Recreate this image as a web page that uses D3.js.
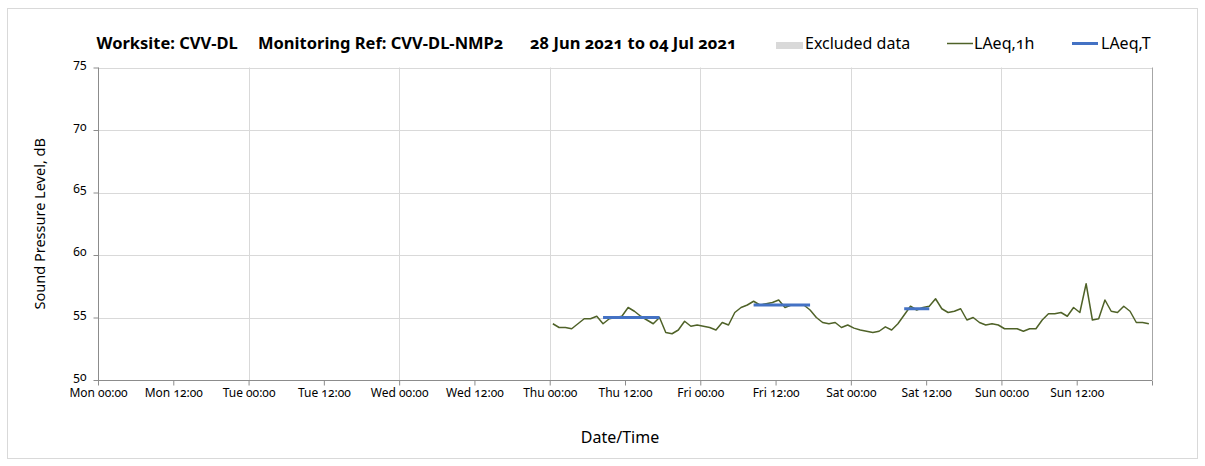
<!DOCTYPE html>
<html>
<head>
<meta charset="utf-8">
<script src="https://cdn.jsdelivr.net/npm/d3@7"></script>
<style>
  body { margin: 0; background: #fff; }
  svg text { font-family: "Noto Sans", sans-serif; font-variant-numeric: oldstyle-nums; fill: #000; }
</style>
</head>
<body>
<svg width="1205" height="466"></svg>
<script>
// hourly LAeq,1h readings, Thu 01 Jul 2021 00:00 onwards (dB)
var hourlyStart = new Date(2021, 6, 1, 0, 0);
var laeq1h = [
  54.5, 54.2, 54.2, 54.1, 54.5, 54.9, 54.9, 55.1, 54.5, 54.9, 55.0, 55.1,
  55.8, 55.5, 55.1, 54.8, 54.5, 55.0, 53.8, 53.7, 54.0, 54.7, 54.3, 54.4,
  54.3, 54.2, 54.0, 54.6, 54.4, 55.4, 55.8, 56.0, 56.3, 56.0, 56.1, 56.2,
  56.4, 55.8, 56.0, 56.0, 56.0, 55.6, 55.0, 54.6, 54.5, 54.6, 54.2, 54.4,
  54.15, 54.0, 53.9, 53.8, 53.9, 54.25, 54.0, 54.5, 55.2, 55.9, 55.6, 55.8,
  55.9, 56.5, 55.7, 55.4, 55.5, 55.7, 54.8, 55.0, 54.6, 54.4, 54.5, 54.4,
  54.1, 54.1, 54.1, 53.9, 54.1, 54.1, 54.8, 55.3, 55.3, 55.4, 55.1, 55.8,
  55.4, 57.7, 54.8, 54.9, 56.4, 55.5, 55.4, 55.9, 55.5, 54.6, 54.6, 54.5
];

// LAeq,T over the working periods
var periodStart = [new Date(2021, 6, 1, 8), new Date(2021, 6, 2, 8), new Date(2021, 6, 3, 8)];
var periodEnd   = [new Date(2021, 6, 1, 17), new Date(2021, 6, 2, 17), new Date(2021, 6, 3, 12)];
var periodValue = [55.0, 56.0, 55.7];

var tickLabels = ["Mon 00:00", "Mon 12:00", "Tue 00:00", "Tue 12:00", "Wed 00:00", "Wed 12:00",
  "Thu 00:00", "Thu 12:00", "Fri 00:00", "Fri 12:00", "Sat 00:00", "Sat 12:00", "Sun 00:00", "Sun 12:00"];
var yTicks = [50, 55, 60, 65, 70, 75];

var weekStart = new Date(2021, 5, 28), weekEnd = new Date(2021, 6, 5);

var svg = d3.select("svg");

// chart border
svg.append("rect")
  .attr("x", 7.5).attr("y", 8.5)
  .attr("width", 1190).attr("height", 450)
  .attr("fill", "none").attr("stroke", "#d9d9d9");

var x = d3.scaleTime().domain([weekStart, weekEnd]).range([98, 1152]);
var y = d3.scaleLinear().domain([50, 75]).range([380, 67.5]);

// mid-hour plotting for hourly values
var hourly = laeq1h.map(function (v, i) {
  return { t: d3.timeMinute.offset(d3.timeHour.offset(hourlyStart, i), 30), v: v };
});

// gridlines
svg.append("g")
  .selectAll("line")
  .data(yTicks.slice(1))
  .enter().append("line")
  .attr("x1", x(weekStart)).attr("x2", x(weekEnd))
  .attr("y1", function (d) { return Math.round(y(d)) + 0.5; })
  .attr("y2", function (d) { return Math.round(y(d)) + 0.5; })
  .attr("stroke", "#d9d9d9");

svg.append("g")
  .selectAll("line")
  .data(d3.timeDay.range(d3.timeDay.offset(weekStart, 1), weekEnd))
  .enter().append("line")
  .attr("x1", function (d) { return Math.round(x(d)) + 0.5; })
  .attr("x2", function (d) { return Math.round(x(d)) + 0.5; })
  .attr("y1", y(75)).attr("y2", y(50))
  .attr("stroke", "#d9d9d9");

svg.append("line")
  .attr("x1", x(weekEnd) + 0.5).attr("x2", x(weekEnd) + 0.5)
  .attr("y1", y(75)).attr("y2", y(50))
  .attr("stroke", "#a6a6a6");

// axes
var xAxis = svg.append("g")
  .attr("transform", "translate(0," + (Math.round(y(50)) + 0.5) + ")")
  .call(d3.axisBottom(x)
    .tickValues(d3.timeHour.every(12).range(weekStart, d3.timeHour.offset(weekEnd, 1)))
    .tickFormat(function (d, i) { return tickLabels[i] || ""; })
    .tickSize(5).tickPadding(3));

var yAxis = svg.append("g")
  .attr("transform", "translate(" + (x(weekStart) + 0.5) + ",0)")
  .call(d3.axisLeft(y).tickValues(yTicks).tickSize(5).tickPadding(7));

[xAxis, yAxis].forEach(function (a) {
  a.select(".domain").attr("stroke", "#8c8c8c");
  a.selectAll(".tick line").attr("stroke", "#8c8c8c");
  a.selectAll(".tick text").style("font-size", "12px").attr("fill", "#000");
});
xAxis.select(".domain").attr("d", "M" + x(weekStart) + ",0H" + x(weekEnd));
yAxis.select(".domain").attr("d", "M0," + y(75) + "V" + y(50));
yAxis.selectAll(".tick text").attr("dy", "0em");

// LAeq,1h line
svg.append("path")
  .datum(hourly)
  .attr("fill", "none")
  .attr("stroke", "#4f6228")
  .attr("stroke-width", 1.5)
  .attr("stroke-linejoin", "round")
  .attr("d", d3.line()
    .x(function (d) { return x(d.t); })
    .y(function (d) { return y(d.v); }));

// LAeq,T segments
svg.append("g")
  .selectAll("line")
  .data(periodValue)
  .enter().append("line")
  .attr("x1", function (d, i) { return x(d3.timeMinute.offset(periodStart[i], 30)); })
  .attr("x2", function (d, i) { return x(d3.timeMinute.offset(periodEnd[i], 30)); })
  .attr("y1", function (d) { return y(d); })
  .attr("y2", function (d) { return y(d); })
  .attr("stroke", "#4472c4")
  .attr("stroke-width", 3);

// axis titles
svg.append("text")
  .attr("x", 620).attr("y", 443)
  .attr("text-anchor", "middle")
  .style("font-size", "16px")
  .text("Date/Time");

svg.append("text")
  .attr("transform", "translate(45," + (y(62.5)) + ")rotate(-90)")
  .attr("text-anchor", "middle")
  .style("font-size", "14.5px")
  .text("Sound Pressure Level, dB");

// title
var titleParts = ["Worksite: CVV-DL", "Monitoring Ref: CVV-DL-NMP2", "28 Jun 2021 to 04 Jul 2021"];
var titleX = [96.5, 258, 530];
svg.append("g")
  .selectAll("text")
  .data(titleParts)
  .enter().append("text")
  .attr("x", function (d, i) { return titleX[i]; })
  .attr("y", 49)
  .style("font-size", "16.5px")
  .style("font-weight", "bold")
  .text(function (d) { return d; });

// legend
var legend = svg.append("g");
legend.append("rect")
  .attr("x", 776).attr("y", 42).attr("width", 27).attr("height", 7)
  .attr("fill", "#d9d9d9");
legend.append("text").attr("x", 805).attr("y", 48.5).style("font-size", "16px").text("Excluded data");
legend.append("line")
  .attr("x1", 947).attr("x2", 973).attr("y1", 43.5).attr("y2", 43.5)
  .attr("stroke", "#4f6228").attr("stroke-width", 1.5);
legend.append("text").attr("x", 974).attr("y", 48.5).style("font-size", "16px").text("LAeq,1h");
legend.append("line")
  .attr("x1", 1072).attr("x2", 1098).attr("y1", 43.5).attr("y2", 43.5)
  .attr("stroke", "#4472c4").attr("stroke-width", 3);
legend.append("text").attr("x", 1101).attr("y", 48.5).style("font-size", "16px").text("LAeq,T");
</script>
</body>
</html>
